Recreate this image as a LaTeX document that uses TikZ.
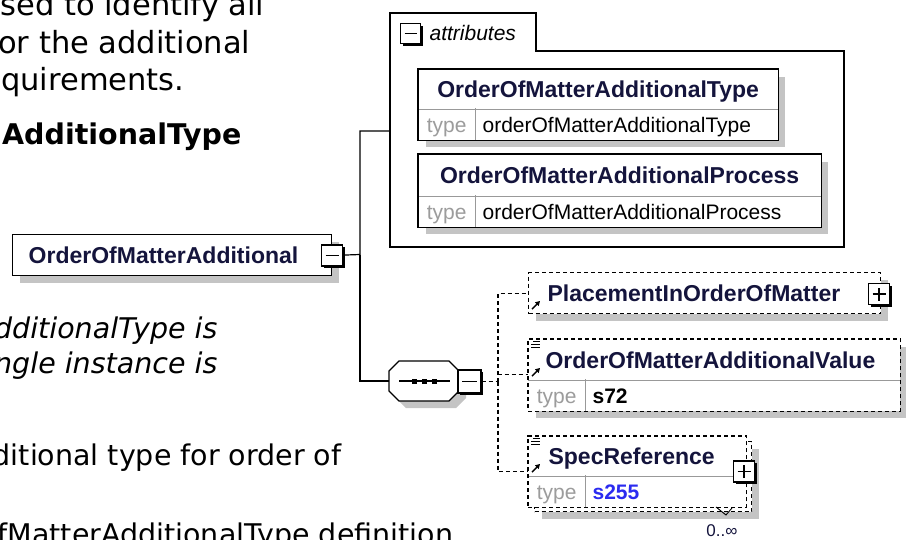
\documentclass[tikz,border=0pt]{standalone}
\usepackage{fontspec}
\setmainfont{Liberation Sans}
\newfontfamily\versefont{DejaVu Sans}[BoldFont={DejaVu Sans Bold},ItalicFont={DejaVu Sans Oblique}]
\usepackage{xcolor}
\usepackage{tikz}
\usetikzlibrary{arrows.meta,positioning,fit,shadows}
\definecolor{Shade}{HTML}{C4C4C4}
\definecolor{NameInk}{HTML}{14143C}
\definecolor{TypeGrey}{HTML}{9C9C9C}
\definecolor{RefBlue}{HTML}{2B2BF0}
\newcommand\elemfont{\fontsize{23}{27}\selectfont\bfseries}
\newcommand\typefont{\fontsize{21}{25}\selectfont}
\newcommand\prosefont{\versefont\fontsize{28.5}{34}\selectfont}
\newcommand\bigprose{\versefont\fontsize{30.5}{36}\selectfont}

\begin{document}
\begin{tikzpicture}[x=1pt,y=-1pt,line width=1.2pt]
  \tikzstyle{castshadow}=[general shadow={fill=Shade,shadow xshift=7pt,shadow yshift=-7pt}]
  \tikzstyle{cell}=[fill=white,inner sep=0pt,anchor=north west]
  \tikzstyle{elem}=[cell,draw,line width=1.4pt,castshadow,font=\elemfont,text=NameInk,text height=17pt,text depth=0pt]
  \tikzstyle{tname}=[cell,font=\elemfont,text=NameInk,text height=17pt,text depth=0pt]
  \tikzstyle{tlabel}=[cell,font=\typefont,text=TypeGrey,minimum width=56pt,minimum height=31pt,text height=16pt,text depth=0pt]
  \tikzstyle{tvalue}=[cell,font=\typefont,minimum height=31pt,inner xsep=8pt,align=left,text height=16pt,text depth=0pt]
  \tikzstyle{tog}=[draw,fill=white,line width=1.1pt,minimum size=21pt,inner sep=0pt,general shadow={fill=black,shadow xshift=2pt,shadow yshift=-2pt}]
  \tikzstyle{minus}=[tog,path picture={\draw ([xshift=4pt]path picture bounding box.west) -- ([xshift=-4pt]path picture bounding box.east);}]
  \tikzstyle{plus}=[tog,path picture={\draw ([xshift=4pt]path picture bounding box.west) -- ([xshift=-4pt]path picture bounding box.east); \draw ([yshift=4pt]path picture bounding box.south) -- ([yshift=-4pt]path picture bounding box.north);}]
  \tikzstyle{optline}=[dash pattern=on 4pt off 3pt]
  \tikzstyle{divider}=[draw=black!40,line width=0.9pt]
  \tikzstyle{ref}=[-{Triangle[length=4.5pt,width=5pt]},line width=1.4pt]
  \tikzstyle{prose}=[anchor=base east,inner sep=0pt,font=\prosefont]
  \useasboundingbox (0,0) rectangle (906,539);
  \clip (0,0) rectangle (906,539);

  % cut-off documentation text
  \node[prose,font=\bigprose] (p1) at (265,15) {sed to identify all};
  \node[prose,font=\bigprose] (p2) at (251,53) {or the additional};
  \node[prose,font=\bigprose] (p3) at (185,90) {quirements.};
  \node[prose,font=\prosefont\bfseries] (p4) at (242,144) {AdditionalType};
  \node[prose,font=\prosefont\itshape] (p5) at (218,338) {dditionalType is};
  \node[prose,font=\prosefont\itshape] (p6) at (218,373) {ngle instance is};
  \node[prose] (p7) at (342,465) {ditional type for order of};
  \node[prose,anchor=base west] (p8) at (-3,544) {fMatterAdditionalType definition};

  % element
  \node[elem,minimum width=319pt,minimum height=41pt,text width=287pt,inner xsep=16pt,align=left] (main) at (12,234) {OrderOfMatterAdditional};
  \node[minus] (maintog) at (332,255.5) {};

  % attributes group
  \draw[line width=1.3pt] (390,247) -- (390,13) -- (536,13) -- (536,51) -- (844,51) -- (844,247) -- cycle;
  \coordinate (grp) at (390,131);
  \node[minus,minimum size=20pt] (grptog) at (410.5,33.5) {};
  \node[anchor=west,inner sep=0pt,font=\typefont\itshape] (grplbl) at (429,33) {attributes};

  \node[tname,castshadow,minimum width=359pt,minimum height=39pt] (a1n) at (418,69) {OrderOfMatterAdditionalType};
  \node[tlabel,castshadow] (a1t) at (418,108) {type};
  \node[tvalue,castshadow,text width=287pt] (a1v) at (474,108) {orderOfMatterAdditionalType};
  \draw[divider] (a1n.south west) -- (a1n.south east) (a1t.north east) -- (a1t.south east);
  \node[fit=(a1n)(a1v),inner sep=0pt,draw,line width=1.4pt] (a1) {};

  \node[tname,castshadow,minimum width=402pt,minimum height=41pt] (a2n) at (418,154) {OrderOfMatterAdditionalProcess};
  \node[tlabel,castshadow] (a2t) at (418,195) {type};
  \node[tvalue,castshadow,text width=330pt] (a2v) at (474,195) {orderOfMatterAdditionalProcess};
  \draw[divider] (a2n.south west) -- (a2n.south east) (a2t.north east) -- (a2t.south east);
  \node[fit=(a2n)(a2v),inner sep=0pt,draw,line width=1.4pt] (a2) {};

  % sequence compositor
  \node[inner sep=0pt,minimum width=70pt,minimum height=40pt,anchor=west] (seq) at (389,381) {};
  \fill[Shade,shift={(7,7)}] (389,371) -- (399,361) -- (449,361) -- (459,371) -- (459,391) -- (449,401) -- (399,401) -- (389,391) -- cycle;
  \draw[fill=white] (389,371) -- (399,361) -- (449,361) -- (459,371) -- (459,391) -- (449,401) -- (399,401) -- (389,391) -- cycle;
  \draw (399,381) -- (450,381);
  \foreach \x in {414,424,434}
    \fill (\x-2.5,378.5) rectangle ++(5,5);
  \node[minus,minimum size=23pt] (seqtog) at (469.5,381.5) {};

  \coordinate (trunk) at (360,254.5);
  \draw (maintog) -- (trunk) |- (grp);
  \draw (trunk) |- (seq.west);

  % children
  \node[tname,castshadow,optline,draw,minimum height=41pt,text width=314pt,inner xsep=19pt,align=left] (c1) at (528,272) {PlacementInOrderOfMatter};
  \node[plus] (c1tog) at (879,294) {};

  \node[tname,castshadow,minimum height=40pt,text width=337pt,inner xsep=17pt,align=left] (c2n) at (528,339) {OrderOfMatterAdditionalValue};
  \node[tlabel,castshadow] (c2t) at (528,379) {type};
  \node[tvalue,castshadow,text width=299pt,font=\typefont\bfseries] (c2v) at (584,379) {s72};
  \draw[divider] (c2n.south west) -- (c2n.south east) (c2t.north east) -- (c2t.south east);
  \node[fit=(c2n)(c2v),inner sep=0pt,draw,optline] (c2) {};

  \node[cell,draw,optline,castshadow,minimum width=217pt,minimum height=70pt] (c3back) at (534,441) {};
  \node[tname,minimum height=39pt,text width=177pt,inner xsep=20pt,align=left] (c3n) at (528,436) {SpecReference};
  \node[tlabel] (c3t) at (528,475) {type};
  \node[tvalue,text width=145pt,font=\typefont\bfseries,text=RefBlue] (c3v) at (584,475) {s255};
  \draw[divider] (c3n.south west) -- (c3n.south east) (c3t.north east) -- (c3t.south east);
  \node[fit=(c3n)(c3v),inner sep=0pt,draw,optline] (c3) {};
  \node[plus] (c3tog) at (744,471.5) {};
  \draw[line width=0.9pt] (716,507) -- (726,515) -- (732,508);
  \node[inner sep=0pt,font=\fontsize{17}{20}\selectfont,text=NameInk] (c3occ) at (722,531) {0..∞};

  \coordinate (fork) at (498,381.5);
  \draw[optline] (seqtog) -- (fork);
  \draw[optline] (fork) |- (c1.west);
  \draw[optline] (fork) |- ([yshift=6pt]c2n.south west);
  \draw[optline] (fork) |- ([yshift=5pt]c3n.south west);

  % reference arrows and value marks
  \foreach \y in {309,376,472}
    \draw[ref] (532,\y) -- ++(8,-8);
  \foreach \y in {341,438}
    \draw[line width=0.9pt] (533,\y) -- ++(7,0) (531,\y+3) -- ++(9,0) (531,\y+6) -- ++(9,0);
\end{tikzpicture}
\end{document}
